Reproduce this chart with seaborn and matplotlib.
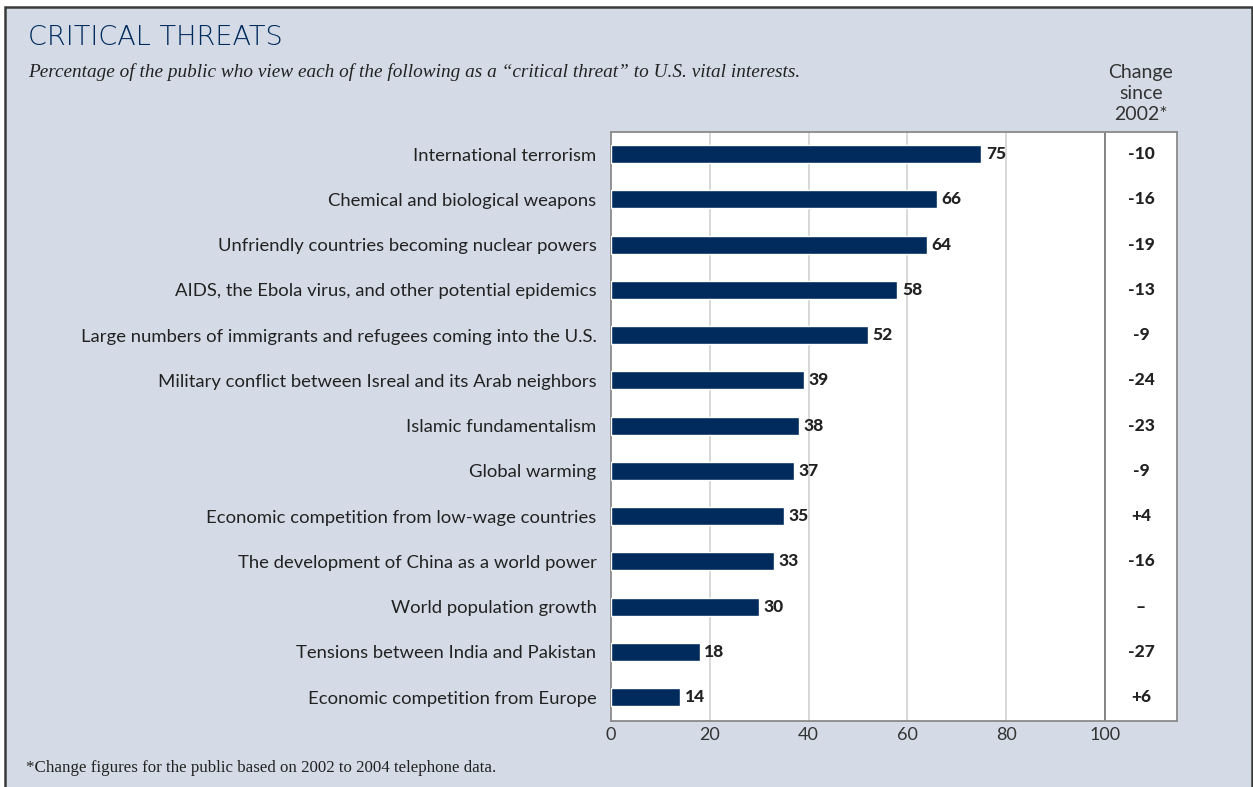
import matplotlib
matplotlib.use("Agg")
import matplotlib.pyplot as plt
from matplotlib.patches import Rectangle
import seaborn as sns
import pandas as pd

# Survey data
threats = [
    "International terrorism",
    "Chemical and biological weapons",
    "Unfriendly countries becoming nuclear powers",
    "AIDS, the Ebola virus, and other potential epidemics",
    "Large numbers of immigrants and refugees coming into the U.S.",
    "Military conflict between Isreal and its Arab neighbors",
    "Islamic fundamentalism",
    "Global warming",
    "Economic competition from low-wage countries",
    "The development of China as a world power",
    "World population growth",
    "Tensions between India and Pakistan",
    "Economic competition from Europe",
]
critical_pct = [75, 66, 64, 58, 52, 39, 38, 37, 35, 33, 30, 18, 14]
change_since_2002 = ["-10", "-16", "-19", "-13", "-9", "-24", "-23", "-9",
                     "+4", "-16", "\u2013", "-27", "+6"]
x_ticks = [0, 20, 40, 60, 80, 100]

NAVY = "#002b5c"
PANEL = "#d5dbe6"
TEXT = "#222222"

sns.set_theme(style="white")
plt.rcParams["font.family"] = ["Lato", "DejaVu Sans"]

df = pd.DataFrame({"threat": threats, "pct": critical_pct})

fig = plt.figure(figsize=(12.53, 7.87), dpi=100, facecolor="white")
W, H = 1253, 787

# Outer panel with dark frame
fig.patches.append(Rectangle((5 / W, -0.05), (1252 - 5) / W, 1.05 - 7 / H,
                             transform=fig.transFigure, facecolor=PANEL,
                             edgecolor="#3a3a3a", linewidth=1.8, zorder=-10))

ax = fig.add_axes([611 / W, 1 - 721 / H, (1177 - 611) / W, (721 - 132) / H])
ax.set_zorder(5)
ax.set_facecolor("white")

sns.barplot(data=df, x="pct", y="threat", orient="h", color=NAVY,
            width=0.4, saturation=1, ax=ax, zorder=3)

ax.set_xlim(0, 114.6)
ax.set_ylim(12.53, -0.49)

for gx in [20, 40, 60, 80]:
    ax.axvline(gx, color="#d2d2d2", lw=1.2, zorder=1)
ax.axvline(100, color="#7a7a7a", lw=1.3, zorder=2)

for s in ax.spines.values():
    s.set_color("#8a8a8a")
    s.set_linewidth(1.3)

ax.set_xticks(x_ticks)
ax.set_xticklabels([str(t) for t in x_ticks], fontsize=13, color="#333333")
ax.tick_params(axis="x", length=0, pad=4.5)
ax.tick_params(axis="y", length=0, pad=10.5, labelsize=13.3, labelcolor=TEXT)
ax.set_xlabel("")
ax.set_ylabel("")

# Value labels at bar ends and change column
for i, (v, c) in enumerate(zip(critical_pct, change_since_2002)):
    ax.text(v + 0.9, i, str(v), va="center", ha="left", fontsize=12.5,
            fontweight="black", color=TEXT, zorder=4)
    ax.text(107.3, i, c, va="center", ha="center", fontsize=12.5,
            fontweight="black", color=TEXT, zorder=4)

ax.text(107.3, 1.015, "Change\nsince\n2002*", transform=ax.get_xaxis_transform(),
        ha="center", va="bottom", fontsize=14, color="#333333",
        linespacing=1.3)

fig.text(28 / W, 1 - 45 / H, "CRITICAL THREATS", fontsize=19.5, color=NAVY,
         family=["DejaVu Sans"], fontweight="light", ha="left", va="baseline")
fig.text(28 / W, 1 - 77 / H,
         "Percentage of the public who view each of the following as a "
         "\u201ccritical threat\u201d to U.S. vital interests.",
         fontsize=13.9, style="italic", family=["Liberation Serif", "DejaVu Serif"],
         color=TEXT, ha="left", va="baseline")
fig.text(26 / W, 1 - 772 / H,
         "*Change figures for the public based on 2002 to 2004 telephone data.",
         fontsize=12.2, family=["Liberation Serif", "DejaVu Serif"],
         color=TEXT, ha="left", va="baseline")

fig.savefig("out.png", dpi=100, facecolor="white")
